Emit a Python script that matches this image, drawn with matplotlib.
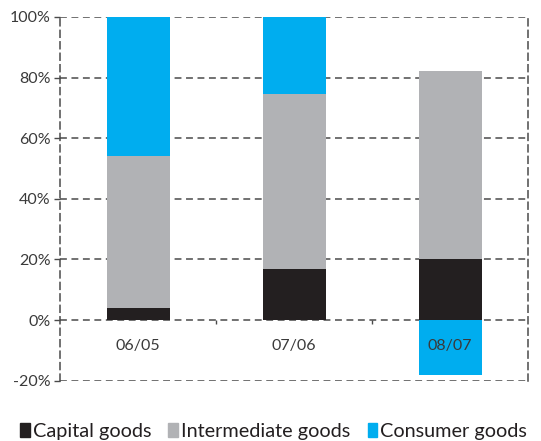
import numpy as np
import matplotlib.pyplot as plt
from matplotlib.patches import Rectangle

# share of growth by type of goods (%)
periods = ["06/05", "07/06", "08/07"]
capital = [4.0, 16.8, 20.1]
intermediate = [50.2, 57.8, 62.1]
consumer = [45.8, 25.4, -18.0]

C_CAP = "#231f20"
C_INT = "#b1b2b5"
C_CON = "#00adef"
C_TXT = "#3a3a3a"
C_GRID = "#4a4a4a"

plt.rcParams['font.family'] = ['Lato', 'DejaVu Sans']

fig = plt.figure(figsize=(5.41, 4.41), dpi=100)
ax = fig.add_axes([0.111, 0.1367, 0.865, 0.825])

x = np.arange(len(periods))
w = 0.404
cap = np.array(capital)
itm = np.array(intermediate)
con = np.array(consumer)

ax.bar(x, cap, w, color=C_CAP, zorder=3)
ax.bar(x, itm, w, bottom=cap, color=C_INT, zorder=3)
# negative consumer share hangs below zero
con_bottom = np.where(con >= 0, cap + itm, 0)
ax.bar(x, con, w, bottom=con_bottom, color=C_CON, zorder=3)

ax.set_xlim(-0.5, 2.5)
ax.set_ylim(-20, 100)
yt = np.arange(-20, 101, 20)
ax.set_yticks(yt)
ax.set_yticklabels([f"{v}%" for v in yt], fontsize=11.5, color=C_TXT)
ax.tick_params(axis='y', length=4, width=1, color=C_GRID, pad=3)
ax.set_xticks([])

dash = (0, (4.5, 3))
for v in yt:
    ax.axhline(v, color=C_GRID, lw=1.1, ls=dash, zorder=1)
for s in ["top", "bottom"]:
    ax.spines[s].set_visible(False)
for s in ["left", "right"]:
    ax.spines[s].set_linestyle(dash)
    ax.spines[s].set_color(C_GRID)
    ax.spines[s].set_linewidth(1.1)

# small category separators on the zero line
for b in x[:-1] + 0.5:
    ax.vlines(b, -1.3, 0, color=C_GRID, lw=1, zorder=2)

for xi, lab in zip(x, periods):
    ax.text(xi, -8.6, lab, ha='center', va='center', fontsize=11.5, color=C_TXT, zorder=4)

handles = [Rectangle((0, 0), 1, 1, color=c) for c in (C_CAP, C_INT, C_CON)]
fig.legend(handles, ["Capital goods", "Intermediate goods", "Consumer goods"],
           loc='lower center', bbox_to_anchor=(0.506, -0.038), ncol=3, frameon=False,
           fontsize=14.3, handlelength=0.5, handleheight=0.7, handletextpad=0.15,
           columnspacing=0.85, labelcolor=C_CAP)

fig.savefig("out.png", dpi=100)
